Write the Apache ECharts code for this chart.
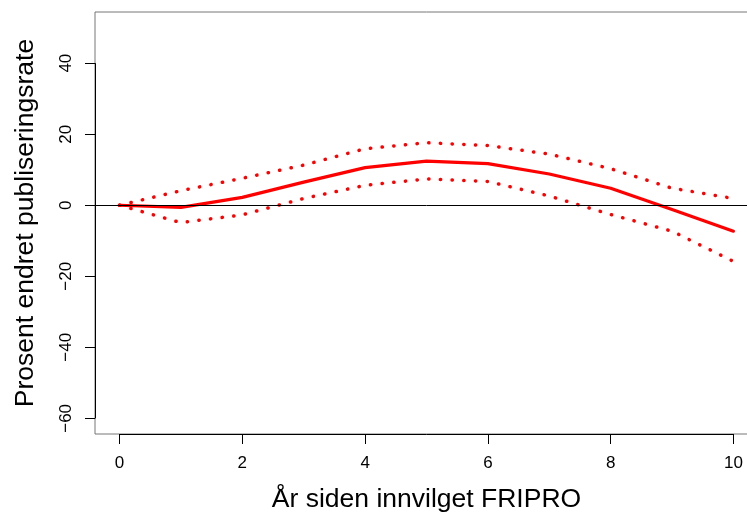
<!DOCTYPE html>
<html>
<head>
<meta charset="utf-8">
<script src="https://cdn.jsdelivr.net/npm/echarts@6/dist/echarts.min.js"></script>
<style>
html,body{margin:0;padding:0;background:#fff;overflow:hidden;width:747px;height:513px;}
#c{width:800px;height:513px;}
</style>
</head>
<body>
<div id="c"></div>
<script>
// Data
const years = [0, 1, 2, 3, 4, 5, 6, 7, 8, 9, 10];
const estimate = [0, -0.6, 2.2, 6.5, 10.6, 12.4, 11.7, 8.8, 4.8, -1.2, -7.3];
const upper = [0, 4.1, 7.6, 11.3, 15.9, 17.6, 16.8, 14.4, 10.3, 4.8, 1.9];
const lower = [0, -4.9, -2.7, 1.9, 5.6, 7.4, 6.7, 2.6, -2.6, -7.3, -15.8];
const xTicks = [0, 2, 4, 6, 8, 10];
const yTicks = [-60, -40, -20, 0, 20, 40];
const xTitle = 'År siden innvilget FRIPRO';
const yTitle = 'Prosent endret publiseringsrate';

const xMin = -0.4, xMax = 10.4;
const yMin = -64.4, yMax = 54.4;

const pairs = (ys) => years.map((x, i) => [x, ys[i]]);
const fmt = (v) => String(v).replace('-', '\u2212');
const FONT = '"Liberation Sans", Arial, Helvetica, sans-serif';

const chart = echarts.init(document.getElementById('c'), null, {renderer: 'canvas'});
chart.setOption({
  animation: false,
  backgroundColor: '#ffffff',
  grid: {
    left: 95, top: 12, width: 663, height: 422,
    outerBoundsMode: 'none', containLabel: false,
    show: true, borderColor: '#777777', borderWidth: 1,
    backgroundColor: 'transparent'
  },
  xAxis: {
    type: 'value', min: xMin, max: xMax,
    name: xTitle, nameLocation: 'middle', nameGap: 52,
    nameTextStyle: {fontFamily: FONT, fontSize: 26.5, color: '#000'},
    axisLine: {show: false, onZero: false},
    splitLine: {show: false},
    axisTick: {show: true, length: 10, inside: false, customValues: xTicks,
      lineStyle: {color: '#000', width: 1}},
    axisLabel: {show: true, customValues: xTicks, margin: 21,
      fontFamily: FONT, fontSize: 17, color: '#000', formatter: fmt}
  },
  yAxis: {
    type: 'value', min: yMin, max: yMax,
    name: yTitle, nameLocation: 'middle', nameGap: 56, nameRotate: 90,
    nameTextStyle: {fontFamily: FONT, fontSize: 26.5, color: '#000'},
    axisLine: {show: false, onZero: false},
    splitLine: {show: false},
    axisTick: {show: true, length: 10, inside: false, customValues: yTicks,
      lineStyle: {color: '#000', width: 1}},
    axisLabel: {show: true, customValues: yTicks, rotate: 90, margin: 20,
      fontFamily: FONT, fontSize: 17, color: '#000', formatter: fmt}
  },
  series: [
    {
      type: 'line', data: [], silent: true,
      markLine: {
        silent: true, symbol: 'none', animation: false,
        label: {show: false},
        lineStyle: {color: '#000', width: 1, type: 'solid'},
        data: [
          [{coord: [xTicks[0], yMin]}, {coord: [xTicks[xTicks.length - 1], yMin]}],
          [{coord: [xMin, yTicks[0]]}, {coord: [xMin, yTicks[yTicks.length - 1]]}],
          {yAxis: 0}
        ]
      }
    },
    {
      name: 'estimat', type: 'line', data: pairs(estimate),
      showSymbol: false, symbol: 'none',
      lineStyle: {color: '#ff0000', width: 3.2, cap: 'round', join: 'round'},
      z: 3
    },
    {
      name: 'øvre', type: 'line', data: pairs(upper),
      showSymbol: false, symbol: 'none',
      lineStyle: {color: '#ff0000', width: 3.5, type: [0.3, 11.4], cap: 'round'},
      z: 4
    },
    {
      name: 'nedre', type: 'line', data: pairs(lower),
      showSymbol: false, symbol: 'none',
      lineStyle: {color: '#ff0000', width: 3.5, type: [0.3, 11.4], cap: 'round'},
      z: 4
    }
  ]
});
</script>
</body>
</html>
